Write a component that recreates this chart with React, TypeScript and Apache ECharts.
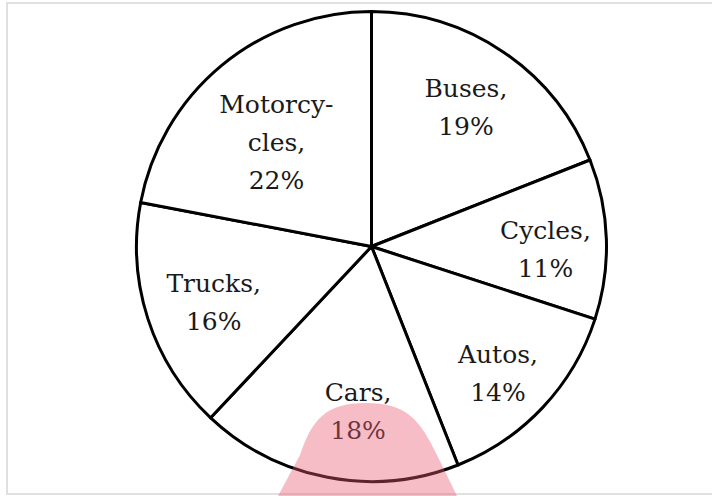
import React, { useEffect, useRef } from "react";
import * as echarts from "echarts";

const categories = ["Buses", "Cycles", "Autos", "Cars", "Trucks", "Motorcy-\ncles"];
const shares = [19, 11, 14, 18, 16, 22];
const labelOffsets: number[][] = [[0, 0], [6, 8], [4, 12], [18, 0], [2, 4], [12, 25]];

echarts.graphic.registerShape(
  "blob",
  echarts.graphic.extendPath(
    "M278,496 L300,455 C312,420 325,403 366,403 C407,403 420,420 437,455 L457,496 Z",
    {}
  )
);

export default function App() {
  const ref = useRef<HTMLDivElement>(null);
  useEffect(() => {
    if (!ref.current) return;
    const chart = echarts.init(ref.current, undefined, { renderer: "svg" });
    const font = "'DejaVu Serif', serif";
    chart.setOption({
      animation: false,
      backgroundColor: "#ffffff",
      series: [
        {
          type: "pie",
          center: [371.5, 246.5],
          radius: 235,
          startAngle: 90,
          clockwise: true,
          silent: true,
          label: { show: false },
          labelLine: { show: false },
          itemStyle: { color: "#ffffff", borderColor: "#000000", borderWidth: 3 },
          data: categories.map((c, i) => ({ name: c, value: shares[i] })),
        },
        {
          type: "pie",
          center: [371.5, 246.5],
          radius: 330,
          startAngle: 90,
          clockwise: true,
          silent: true,
          itemStyle: { color: "rgba(0,0,0,0)", borderWidth: 0 },
          labelLine: { show: false },
          label: {
            show: true,
            position: "inside",
            formatter: "{b},\n{c}%",
            fontFamily: font,
            fontSize: 25,
            lineHeight: 38,
            color: "#1a1a1a",
            align: "center",
          },
          data: categories.map((c, i) => ({
            name: c,
            value: shares[i],
            label: { offset: labelOffsets[i] },
          })),
        },
      ],
      graphic: [
        {
          type: "rect",
          shape: { x: 7, y: 3, width: 720, height: 491 },
          style: { fill: "none", stroke: "#e0e0e0", lineWidth: 2 },
          z: 0,
        },
        {
          type: "blob",
          x: 0,
          y: 0,
          style: { fill: "rgba(235,90,115,0.4)" },
          z: 100,
        },
      ],
    });
    return () => chart.dispose();
  }, []);
  return (
    <div
      ref={ref}
      style={{ position: "fixed", left: 0, top: 0, width: 712, height: 496 }}
    />
  );
}
